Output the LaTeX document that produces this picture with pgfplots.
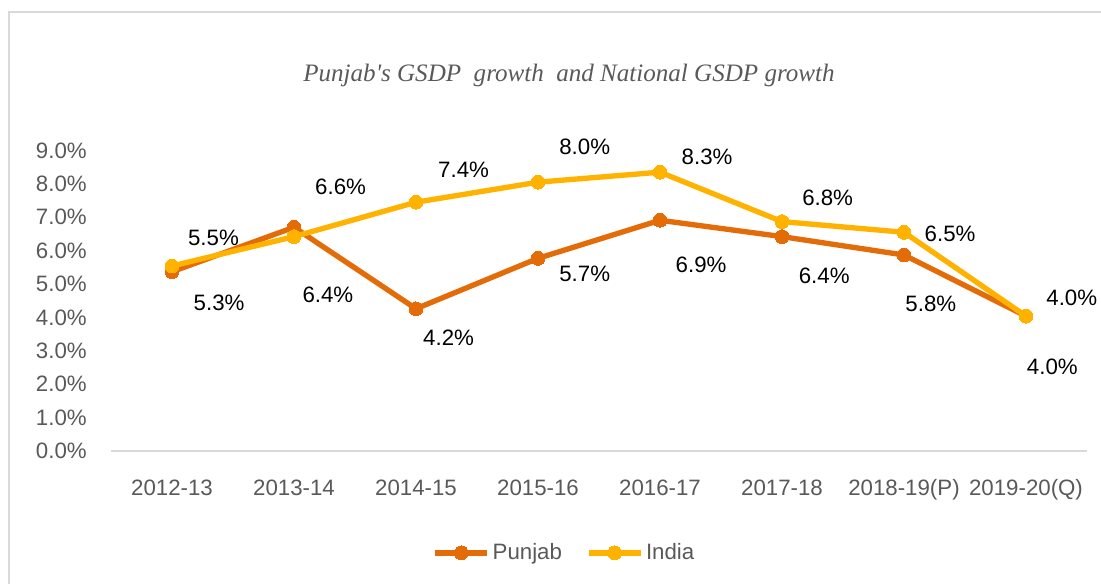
\documentclass[border=0pt]{standalone}
\usepackage{pgfplots}
\pgfplotsset{compat=1.18}
\usepackage{fontspec}
\setmainfont{Liberation Sans}
\newfontfamily\serifit{Liberation Serif}
\definecolor{punjab}{RGB}{227,108,9}
\definecolor{india}{RGB}{255,179,0}
\definecolor{txtgray}{RGB}{89,89,89}
\definecolor{framegray}{RGB}{217,217,217}
\begin{document}
\begin{tikzpicture}
\useasboundingbox (0,0) rectangle (825.75pt,-438pt);
\draw[framegray, line width=1pt] (6.75pt,-445pt) -- (6.75pt,-9pt) -- (835pt,-9pt);
\node[anchor=base, text=txtgray, font=\serifit\itshape\fontsize{18.8}{22}\selectfont] at (426.75pt,-61.3pt) {Punjab's GSDP\ \ growth\ \ and National GSDP growth};
\begin{axis}[
  at={(83.25pt,-338.25pt)}, anchor=south west,
  scale only axis, width=732pt, height=225.4pt,
  xmin=-0.5, xmax=7.5, ymin=0, ymax=9,
  clip=false,
  xtick={0,...,7},
  xticklabels={2012-13,2013-14,2014-15,2015-16,2016-17,2017-18,2018-19(P),2019-20(Q)},
  ytick={0,...,9},
  yticklabels={0.0\%,1.0\%,2.0\%,3.0\%,4.0\%,5.0\%,6.0\%,7.0\%,8.0\%,9.0\%},
  axis x line*=bottom, axis y line*=left,
  y axis line style={draw=none},
  x axis line style={draw=framegray, line width=1pt, -},
  major tick length=0pt,
  ticklabel style={font=\fontsize{16.7}{20}\selectfont, text=txtgray},
  xticklabel style={anchor=base, inner sep=0pt, yshift=-33.75pt},
  yticklabel style={anchor=east, inner sep=0pt, xshift=-18pt},
  legend style={at={(0.465,-0.339)}, anchor=center, draw=none, fill=none,
    font=\fontsize{16.7}{20}\selectfont, text=txtgray,
    /tikz/every even column/.append style={column sep=16pt}},
  legend columns=2,
  legend image code/.code={\draw[mark repeat=2,mark phase=2,#1] plot coordinates {(0pt,0pt) (19.5pt,0pt) (39pt,0pt)};},
]
\addplot[punjab, line width=4pt, line join=round, mark=*, mark size=5.2pt,
  mark options={solid, fill=punjab, draw=punjab, line width=0pt}]
  coordinates {(0,5.37) (1,6.70) (2,4.26) (3,5.77) (4,6.91) (5,6.42) (6,5.87) (7,4.04)};
\addlegendentry{Punjab}
\addplot[india, line width=4pt, line join=round, mark=*, mark size=5.2pt,
  mark options={solid, fill=india, draw=india, line width=0pt}]
  coordinates {(0,5.54) (1,6.42) (2,7.45) (3,8.05) (4,8.35) (5,6.87) (6,6.55) (7,4.04)};
\addlegendentry{India}
% data labels (India)
\addplot[forget plot, draw=none, mark=none, nodes near coords, point meta=explicit symbolic,
  every node near coord/.style={anchor=center, inner sep=0pt, font=\fontsize{16.7}{20}\selectfont, text=black}]
  coordinates {(0.340,6.37)[5.5\%] (1.382,7.92)[6.6\%] (2.390,8.42)[7.4\%] (3.383,9.11)[8.0\%]
               (4.386,8.81)[8.3\%] (5.374,7.57)[6.8\%] (6.378,6.49)[6.5\%] (7.375,4.59)[4.0\%]};
% data labels (Punjab)
\addplot[forget plot, draw=none, mark=none, nodes near coords, point meta=explicit symbolic,
  every node near coord/.style={anchor=center, inner sep=0pt, font=\fontsize{16.7}{20}\selectfont, text=black}]
  coordinates {(0.386,4.44)[5.3\%] (1.278,4.69)[6.4\%] (2.267,3.38)[4.2\%] (3.383,5.30)[5.7\%]
               (4.337,5.57)[6.9\%] (5.346,5.25)[6.4\%] (6.220,4.42)[5.8\%] (7.216,2.52)[4.0\%]};
\end{axis}
\end{tikzpicture}
\end{document}
